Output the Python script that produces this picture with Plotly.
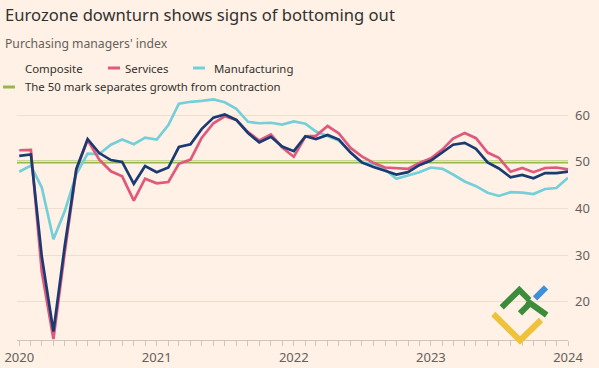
import plotly.graph_objects as go
import pandas as pd

# ---- data ----
dates = pd.date_range("2020-01-01", "2024-01-01", freq="MS")
composite = [51.3, 51.6, 29.7, 13.6, 31.9, 48.5, 54.9, 51.9, 50.4, 50.0, 45.3, 49.1,
             47.8, 48.8, 53.2, 53.8, 57.1, 59.5, 60.2, 59.0, 56.2, 54.2, 55.4, 53.3,
             52.3, 55.5, 54.9, 55.8, 54.8, 52.0, 49.9, 48.9, 48.1, 47.3, 47.8, 49.3,
             50.3, 52.0, 53.7, 54.1, 52.8, 49.9, 48.6, 46.7, 47.2, 46.5, 47.6, 47.6,
             47.9]
services = [52.5, 52.6, 26.4, 12.0, 30.5, 48.3, 54.7, 50.5, 48.0, 46.9, 41.7, 46.4,
            45.4, 45.7, 49.6, 50.5, 55.2, 58.3, 59.8, 59.0, 56.4, 54.6, 55.9, 53.1,
            51.1, 55.5, 55.6, 57.7, 56.1, 53.0, 51.2, 49.8, 48.8, 48.6, 48.5, 49.8,
            50.8, 52.7, 55.0, 56.2, 55.1, 52.0, 50.9, 47.9, 48.7, 47.8, 48.7, 48.8,
            48.4]
manufacturing = [47.9, 49.2, 44.5, 33.4, 39.4, 47.4, 51.8, 51.7, 53.7, 54.8, 53.8, 55.2,
                 54.8, 57.9, 62.5, 62.9, 63.1, 63.4, 62.8, 61.4, 58.6, 58.3, 58.4, 58.0,
                 58.7, 58.2, 56.5, 55.5, 54.6, 52.1, 49.8, 49.6, 48.4, 46.4, 47.1, 47.8,
                 48.8, 48.5, 47.3, 45.8, 44.8, 43.4, 42.7, 43.5, 43.4, 43.1, 44.2, 44.4,
                 46.6]
threshold = 50
y_ticks = [20, 30, 40, 50, 60]
series_names = ["Composite", "Services", "Manufacturing"]
threshold_label = "The 50 mark separates growth from contraction"
title = "Eurozone downturn shows signs of bottoming out"
subtitle = "Purchasing managers' index"

# ---- style ----
BG = "#FFF1E5"
C_COMP = "#1A3A73"
C_SERV = "#E0587C"
C_MANU = "#74CFDA"
C_GREEN = "#96B84A"
FONT = "Noto Sans"

W, H = 599, 368
L, R, T, B = 17, 568, 92, 340  # plot area in px


def px(x):
    return (x - L) / (R - L)


def py(y):
    return (B - y) / (B - T)


fig = go.Figure()
fig.add_hline(y=threshold, line=dict(color=C_GREEN, width=3), layer="below")
for name, vals, col in [("Manufacturing", manufacturing, C_MANU),
                        ("Services", services, C_SERV),
                        ("Composite", composite, C_COMP)]:
    fig.add_trace(go.Scatter(x=dates, y=vals, mode="lines", name=name,
                             line=dict(color=col, width=2.7), showlegend=False))

annotations = [
    dict(text=title, x=px(3), y=py(15), xref="paper", yref="paper", xanchor="left",
         yanchor="middle", showarrow=False, font=dict(size=16.6, color="#33302E", family=FONT)),
    dict(text=subtitle, x=px(3), y=py(43), xref="paper", yref="paper", xanchor="left",
         yanchor="middle", showarrow=False, font=dict(size=12.2, color="#66605C", family=FONT)),
]
shapes = []
legend_items = [(series_names[0], C_COMP, 3, 23, 68),
                (series_names[1], C_SERV, 108, 123, 68),
                (series_names[2], C_MANU, 193, 212, 68),
                (threshold_label, C_GREEN, 3, 23, 87)]
for txt, col, sx, tx, yy in legend_items:
    shapes.append(dict(type="line", xref="paper", yref="paper", x0=px(sx), x1=px(sx + 12),
                       y0=py(yy), y1=py(yy), line=dict(color=col, width=3)))
    annotations.append(dict(text=txt, x=px(tx), y=py(yy), xref="paper", yref="paper",
                            xanchor="left", yanchor="middle", showarrow=False,
                            font=dict(size=11.4, color="#33302E", family=FONT)))

# watermark logo (decoration)
logo = [
    ("#3C8C3C", [(501.7, 307.3), (519.3, 290), (529.3, 300)]),
    ("#3C8C3C", [(520, 313.3), (531.7, 301.7)]),
    ("#3C8C3C", [(527, 301), (546.7, 315)]),
    ("#3F8FDB", [(535, 298.3), (546, 287.3)]),
    ("#EEC23A", [(493.3, 314), (520, 340.5), (541, 320)]),
]
for col, pts in logo:
    path = "M " + " L ".join(f"{px(a):.5f},{py(b):.5f}" for a, b in pts)
    shapes.append(dict(type="path", xref="paper", yref="paper", path=path,
                       line=dict(color=col, width=6), layer="above"))

fig.update_layout(
    width=W, height=H, autosize=False, paper_bgcolor=BG, plot_bgcolor=BG,
    margin=dict(l=L, r=W - R, t=T, b=H - B, pad=0, autoexpand=False),
    font=dict(family=FONT, color="#66605C", size=12),
    annotations=annotations, shapes=shapes, showlegend=False,
)
fig.update_xaxes(
    range=["2019-12-26", "2024-01-01"], dtick="M12", tickformat="%Y",
    tick0="2020-01-01", ticks="outside", ticklen=5, tickcolor="#CFC5BA",
    minor=dict(dtick="M1", ticks="outside", ticklen=5, tickcolor="#CFC5BA"),
    showline=True, linecolor="#CFC5BA", linewidth=1, showgrid=False, zeroline=False,
    tickfont=dict(size=13, color="#66605C"), automargin=False,
)
fig.update_yaxes(
    range=[11.8, 65], side="right", tickvals=y_ticks, showgrid=True,
    gridcolor="#F0DDCC", gridwidth=1, zeroline=False, ticks="",
    tickfont=dict(size=13, color="#66605C"), ticklabelstandoff=6, automargin=False,
)

fig.write_html(
    "out.html",
    config={"responsive": False, "displayModeBar": False},
    post_script="document.body.style.margin='0';document.body.style.overflow='hidden';"
                "document.body.style.background='#FFF1E5';",
)
